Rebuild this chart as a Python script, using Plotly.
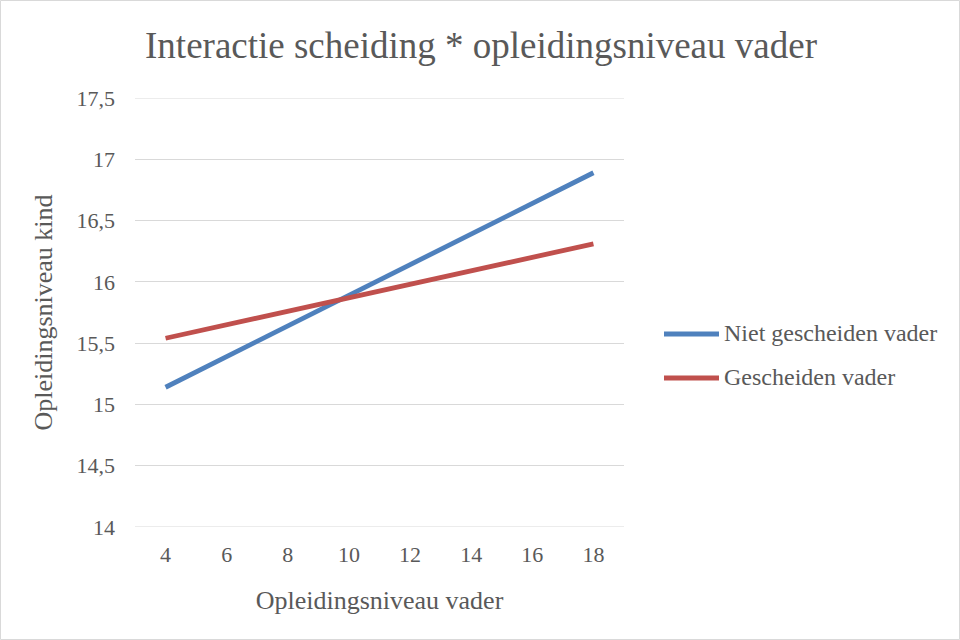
import plotly.graph_objects as go

categories = ["4", "6", "8", "10", "12", "14", "16", "18"]
niet_gescheiden = [15.14, 15.39, 15.64, 15.89, 16.14, 16.39, 16.64, 16.89]
gescheiden = [15.54, 15.65, 15.76, 15.87, 15.98, 16.09, 16.20, 16.31]
series_names = ["Niet gescheiden vader", "Gescheiden vader"]
series_colors = ["#4F81BD", "#C0504D"]
y_tickvals = [14, 14.5, 15, 15.5, 16, 16.5, 17, 17.5]
y_ticktext = ["14", "14,5", "15", "15,5", "16", "16,5", "17", "17,5"]

FONT = "Liberation Serif, Times New Roman, serif"
TXT = "#595959"
GRID = "#D9D9D9"

fig = go.Figure()
for name, vals, col in zip(series_names, [niet_gescheiden, gescheiden], series_colors):
    fig.add_trace(go.Scatter(x=categories, y=vals, mode="lines", name=name,
                             showlegend=False,
                             line=dict(color=col, width=4.8)))

L, R, T, B = 135, 336, 98, 113
PW, PH = 960 - L - R, 640 - T - B


def px(x):
    return (x - L) / PW


def py(y):
    return (640 - B - y) / PH


fig.update_layout(
    width=960, height=640,
    margin=dict(l=L, r=R, t=T, b=B, pad=0),
    paper_bgcolor="white", plot_bgcolor="white",
    font=dict(family=FONT, color=TXT, size=22),
    title=dict(text="Interactie scheiding * opleidingsniveau vader",
               x=481 / 960, xanchor="center", y=1 - 45 / 640, yanchor="middle",
               font=dict(size=37, color=TXT, family=FONT)),
    xaxis=dict(type="category", range=[-0.5, 7.5], showgrid=False,
               showline=False, zeroline=False, ticks="",
               ticklabelstandoff=12,
               tickfont=dict(size=22, color=TXT),
               title=dict(text="Opleidingsniveau vader", standoff=24,
                          font=dict(size=26, color=TXT))),
    yaxis=dict(range=[14, 17.5], tickvals=y_tickvals, ticktext=y_ticktext,
               showgrid=True, gridcolor=GRID, gridwidth=1,
               zeroline=False, showline=False, ticks="",
               ticklabelstandoff=19,
               tickfont=dict(size=22, color=TXT),
               title=dict(text="Opleidingsniveau kind", standoff=16,
                          font=dict(size=26, color=TXT))),
    showlegend=False,
)

# edge gridlines (plotly hides gridlines on the exact range edges)
for yv in (y_tickvals[0], y_tickvals[-1]):
    fig.add_shape(type="line", xref="paper", yref="y", x0=0, x1=1,
                  y0=yv, y1=yv, line=dict(color=GRID, width=1), layer="below")

# manual legend
legend_y = [334, 378]
for name, col, ly in zip(series_names, series_colors, legend_y):
    fig.add_shape(type="line", xref="paper", yref="paper",
                  x0=px(664), x1=px(719), y0=py(ly), y1=py(ly),
                  line=dict(color=col, width=4.8))
    fig.add_annotation(xref="paper", yref="paper", x=px(722), y=py(ly - 1),
                       xanchor="left", yanchor="middle", text=name,
                       showarrow=False, font=dict(size=24, color=TXT))

fig.add_shape(type="rect", xref="paper", yref="paper",
              x0=(-L + 0.5) / PW, x1=(960 - L - 0.5) / PW,
              y0=(-B + 0.5) / PH, y1=(640 - B - 0.5) / PH,
              line=dict(color=GRID, width=1), fillcolor="rgba(0,0,0,0)",
              layer="below")

fig.write_html("out.html", config={"displayModeBar": False},
               post_script="document.body.style.margin='0';document.body.style.overflow='hidden';")
